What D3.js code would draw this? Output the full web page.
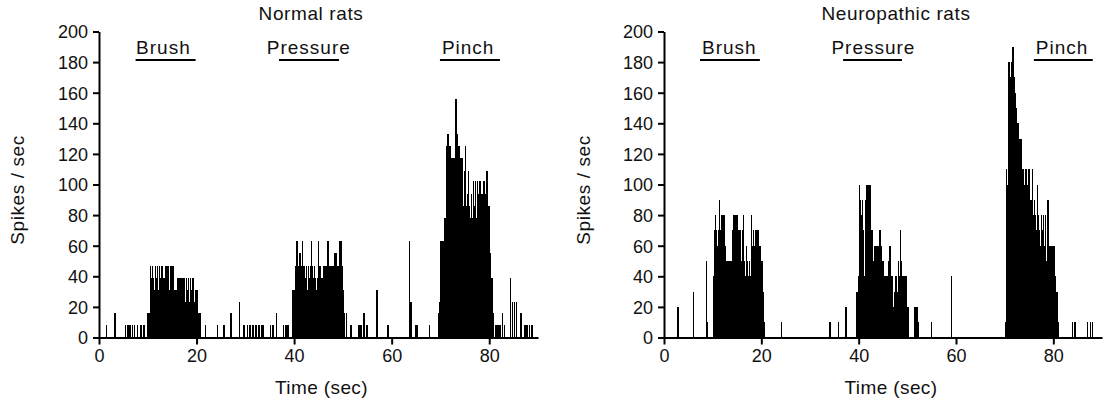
<!DOCTYPE html>
<html>
<head>
<meta charset="utf-8">
<script src="https://cdnjs.cloudflare.com/ajax/libs/d3/7.8.5/d3.min.js"></script>
<style>
  html, body { margin: 0; padding: 0; background: #fff; }
  svg { display: block; }
  text { font-family: "Liberation Sans", Arial, Helvetica, sans-serif; fill: #111; }
</style>
</head>
<body>
<svg id="chart" width="1103" height="405"></svg>
<script>
// ---------------- DATA ----------------
const BIN = 0.2;                 // seconds per histogram bin
const yTicks = [0, 20, 40, 60, 80, 100, 120, 140, 160, 180, 200];
const xTicks = [0, 20, 40, 60, 80];
const stimuli = ["Brush", "Pressure", "Pinch"];

// Normal rats — dense bursts (start time, values in spikes/sec every BIN)
const normalBrushStart = 10.2;
const normalBrush = [16,47,39,47,39,31,47,39,47,31,47,39,23,47,31,39,23,47,39,47,31,23,47,39,47,31,23,31,23,39,31,39,23,39,31,39,39,23,39,31,39,23,39,31,39,39,23,31,31,31,16];
const normalPressureStart = 39.6;
const normalPressure = [31,31,31,47,63,39,47,55,47,39,63,47,47,39,47,31,47,39,47,63,47,39,47,39,31,39,63,39,47,39,31,39,47,39,47,39,63,47,39,47,47,39,47,55,55,47,39,47,63,63,47,47,31,16];
const normalPinchStart = 69.6;
const normalPinch = [16,23,63,55,63,47,78,63,125,133,117,125,117,94,117,109,117,156,133,117,125,117,102,117,94,86,109,125,86,94,109,86,78,94,78,102,86,102,78,102,94,86,102,78,94,78,102,70,94,109,78,86,55,39,39,16];
// Normal rats — isolated bins [time, spikes/sec]
const normalSparse = [[1.4,8],[3.1,16],[5.3,8],[5.8,8],[6.2,8],[6.7,8],[7.1,8],[7.7,8],[8.4,8],[9.1,8],[9.9,16],
  [20.6,16],[21.7,8],[24.1,8],[25.5,8],[26.9,16],[28.6,23],[29.6,8],[30.3,8],[30.8,8],[31.4,8],[32.0,8],[32.6,8],[33.2,8],[33.6,8],
  [35.0,8],[35.5,8],[36.2,16],[37.7,8],[38.2,8],[38.6,8],
  [50.6,16],[51.5,8],[53.2,8],[53.5,8],[54.2,16],[54.8,8],[56.8,31],[59.1,8],[63.5,63],[63.8,23],[64.7,8],[65.0,8],[67.6,8],
  [81.2,8],[81.6,8],[82.0,8],[82.6,16],[83.0,8],[84.2,39],[84.6,23],[85.0,23],[85.4,23],[86.3,16],[87.2,8],[87.6,8],[88.1,8],[88.6,8]];

// Neuropathic rats
const neuroBrushStart = 10.0;
const neuroBrush = [40,70,80,70,60,70,90,70,60,80,70,80,60,50,40,50,40,50,40,50,70,80,80,60,80,50,70,60,70,50,70,80,50,40,60,50,40,50,40,80,60,70,60,70,70,60,70,50,60,50,50,30,10];
const neuroPressureStart = 39.6;
const neuroPressure = [30,40,100,90,80,90,70,40,90,60,100,100,90,100,70,70,40,50,60,50,60,60,40,70,60,40,50,40,30,40,30,40,50,60,60,40,40,20,30,40,40,30,50,40,70,50,40,40,30,40,40,20,20];
const neuroPinchStart = 70.0;
const neuroPinch = [10,110,100,180,180,170,180,160,190,170,160,150,140,140,130,120,130,100,110,100,90,110,90,100,110,80,90,90,110,80,90,80,70,100,80,70,60,80,70,80,60,80,50,60,90,50,60,60,50,60,60,40,10,30,10];
const neuroSparse = [[2.7,20],[5.9,30],[8.6,50],[8.8,10],[24.0,10],[33.9,10],[35.7,10],[37.2,20],[39.4,30],
  [51.4,20],[51.6,20],[51.8,20],[52.1,10],[54.8,10],[58.9,40],
  [83.8,10],[84.3,10],[86.9,10],[87.5,10],[87.9,10]];

// stimulus bars [start, end] in seconds
const normalStimBars = [[7.5, 19.8], [36.9, 49.2], [69.9, 82.2]];
const normalStimText = [7.6, 34.4, 70.3];
const neuroStimBars = [[7.4, 19.7], [36.8, 48.9], [76.0, 88.1]];
const neuroStimText = [7.8, 34.4, 76.4];

// ---------------- DRAWING ----------------
const svg = d3.select("#chart");

function buildBars(segments, sparse) {
  const out = [];
  segments.forEach(([start, vals]) => vals.forEach((v, i) => out.push({ t: start + i * BIN, v })));
  sparse.forEach(([t, v]) => out.push({ t, v }));
  return out;
}

function panel(opts) {
  const x = d3.scaleLinear().domain([0, 90]).range(opts.xRange);
  const y = d3.scaleLinear().domain([0, 200]).range([337.5, 31.5]);
  const g = svg.append("g");

  // title
  g.append("text").attr("x", opts.titleX).attr("y", 20)
    .attr("text-anchor", "middle").style("font-size", "19px").style("letter-spacing", "0.6px")
    .text(opts.title);

  // bars
  const bars = buildBars(opts.segments, opts.sparse);
  g.append("g").attr("shape-rendering", "crispEdges").selectAll("rect").data(bars).join("rect")
    .attr("x", d => x(d.t))
    .attr("width", d => Math.max(1.5, x(d.t + BIN) - x(d.t) + 0.6))
    .attr("y", d => y(d.v))
    .attr("height", d => y(0) - y(d.v))
    .attr("fill", "#000");

  // axes
  const xa = g.append("g").attr("transform", `translate(0,${y(0)})`)
    .call(d3.axisBottom(x).tickValues(xTicks).tickSize(7).tickSizeOuter(0).tickPadding(5).tickFormat(d3.format("d")));
  const ya = g.append("g").attr("transform", `translate(${x(0)},0)`)
    .call(d3.axisLeft(y).tickValues(yTicks).tickSize(6).tickSizeOuter(0).tickPadding(5).tickFormat(d3.format("d")));
  [xa, ya].forEach(a => {
    a.select(".domain").attr("stroke", "#000").attr("stroke-width", 2);
    a.selectAll(".tick line").attr("stroke", "#000").attr("stroke-width", 2);
    a.selectAll(".tick text").style("font-size", "18px").attr("fill", "#111")
      .style("font-family", '"Liberation Sans", Arial, sans-serif');
  });
  ya.selectAll(".tick text").attr("dy", "0.36em");

  // axis titles
  g.append("text").attr("x", (x(0) + x(90)) / 2 + opts.timeDx).attr("y", 394)
    .attr("text-anchor", "middle").style("font-size", "19px").style("letter-spacing", "0.4px")
    .text("Time (sec)");
  g.append("text").attr("transform", `translate(${opts.ylabX},190) rotate(-90)`)
    .attr("text-anchor", "middle").style("font-size", "19px").style("letter-spacing", "0.6px")
    .text("Spikes / sec");

  // stimulus labels
  stimuli.forEach((s, i) => {
    g.append("text").attr("x", x(opts.stimText[i])).attr("y", 54)
      .style("font-size", "19px").style("letter-spacing", "1px").text(s);
    g.append("line")
      .attr("x1", x(opts.stimBars[i][0])).attr("x2", x(opts.stimBars[i][1]))
      .attr("y1", 60).attr("y2", 60).attr("stroke", "#000").attr("stroke-width", 2);
  });
}

panel({
  title: "Normal rats", titleX: 311, xRange: [99, 538], ylabX: 24, timeDx: 3,
  segments: [[normalBrushStart, normalBrush], [normalPressureStart, normalPressure], [normalPinchStart, normalPinch]],
  sparse: normalSparse, stimBars: normalStimBars, stimText: normalStimText
});
panel({
  title: "Neuropathic rats", titleX: 896, xRange: [664, 1102], ylabX: 590, timeDx: 8,
  segments: [[neuroBrushStart, neuroBrush], [neuroPressureStart, neuroPressure], [neuroPinchStart, neuroPinch]],
  sparse: neuroSparse, stimBars: neuroStimBars, stimText: neuroStimText
});
</script>
</body>
</html>
